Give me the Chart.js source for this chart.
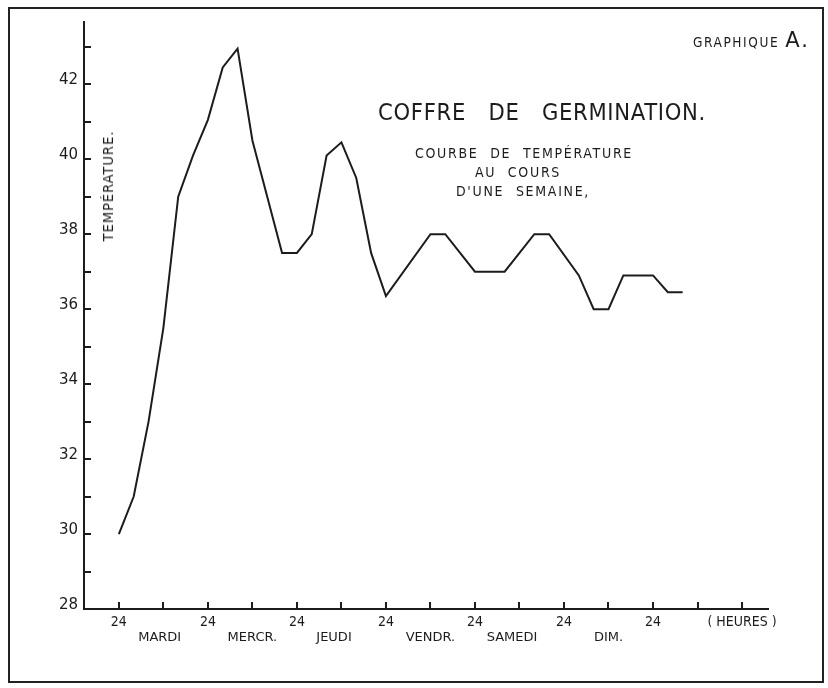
<!DOCTYPE html>
<html>
<head>
<meta charset="utf-8">
<script src="https://cdn.jsdelivr.net/npm/chart.js@4.4.1/dist/chart.umd.min.js"></script>
<style>
  html, body { margin: 0; padding: 0; background: #fff; }
  body { width: 828px; height: 688px; position: relative; overflow: hidden;
         font-family: 'DejaVu Sans Condensed', 'DejaVu Sans', sans-serif; color: #1c1c1c; }
  #frame { position: absolute; left: 8px; top: 7px; width: 812px; height: 672px; border: 2px solid #222; }
  canvas { position: absolute; left: 0; top: 0; }
  .note { position: absolute; white-space: nowrap; }
  .ctr { transform: translateX(-50%); }
  #graph { left: 693px; top: 28px; font-size: 13.5px; letter-spacing: 1.6px; }
  #graph b { font-family: 'DejaVu Sans', sans-serif; font-size: 21px; font-weight: normal; letter-spacing: 2px; margin-left: 6px; }
  #title { left: 542px; top: 101px; font-size: 23.5px; line-height: 23px; letter-spacing: 0.7px; word-spacing: 15px; }
  .sub { font-size: 14px; line-height: 19px; letter-spacing: 1.7px; word-spacing: 6px; }
  #ylab { left: 108px; top: 186px; font-size: 14.5px; letter-spacing: 1px;
          transform: translate(-50%, -50%) rotate(-90deg); }
</style>
</head>
<body>
<div id="frame"></div>
<canvas id="chart" width="828" height="688"></canvas>
<div class="note" id="graph">GRAPHIQUE<b>A.</b></div>
<div class="note ctr" id="title">COFFRE DE GERMINATION.</div>
<div class="note ctr sub" style="left:524px; top:144px;">COURBE DE TEMPÉRATURE</div>
<div class="note ctr sub" style="left:518px; top:163px;">AU COURS</div>
<div class="note ctr sub" style="left:523px; top:182px;">D'UNE SEMAINE,</div>
<div class="note" id="ylab">TEMPÉRATURE.</div>
<script>
// heures depuis minuit (lundi -> mardi)
const hours = [0, 4, 8, 12, 16, 20, 24, 28, 32, 36, 44, 48, 52, 56, 60, 64, 68, 72,
               84, 88, 96, 104, 112, 116, 124, 128, 132, 136, 144, 148, 152];
const temps = [30.0, 31.0, 33.0, 35.5, 39.0, 40.1, 41.05, 42.45, 42.95, 40.5, 37.5, 37.5, 38.0, 40.1, 40.45, 39.5, 37.5, 36.35,
               38.0, 38.0, 37.0, 37.0, 38.0, 38.0, 36.9, 36.0, 36.0, 36.9, 36.9, 36.45, 36.45];

const hourTicks = [0, 12, 24, 36, 48, 60, 72, 84, 96, 108, 120, 132, 144, 156, 168];
const hourLabels = ['24', '', '24', '', '24', '', '24', '', '24', '', '24', '', '24', '', '( HEURES )'];

const tempTicks = [28, 29, 30, 31, 32, 33, 34, 35, 36, 37, 38, 39, 40, 41, 42, 43];
const tempLabels = ['28', '', '30', '', '32', '', '34', '', '36', '', '38', '', '40', '', '42', ''];

const dayNames = ['MARDI', 'MERCR.', 'JEUDI', 'VENDR.', 'SAMEDI', 'DIM.'];
const dayHours = [11, 36, 58, 84, 106, 132];

const ink = '#1c1c1c';
const fam = "'DejaVu Sans Condensed', 'DejaVu Sans', sans-serif";
const famWide = "'DejaVu Sans', sans-serif";

new Chart(document.getElementById('chart'), {
    type: 'line',
    data: {
        datasets: [{
            data: hours.map((h, i) => ({ x: h, y: temps[i] })),
            borderColor: ink,
            borderWidth: 2,
            pointRadius: 0,
            tension: 0,
            fill: false
        }]
    },
    options: {
        responsive: false,
        devicePixelRatio: 1,
        animation: false,
        layout: { padding: { left: 0, top: 20, right: 60, bottom: 0 } },
        plugins: { legend: { display: false }, tooltip: { enabled: false } },
        scales: {
            x: {
                type: 'linear',
                position: 'bottom',
                weight: 0,
                min: -9.4,
                max: 175,
                afterBuildTicks: s => { s.ticks = hourTicks.map(v => ({ value: v })); },
                afterFit: s => { s.height = 18; },
                border: { display: true, color: ink, width: 2 },
                grid: { drawOnChartArea: false, color: ink, lineWidth: 2, tickLength: -7 },
                ticks: {
                    autoSkip: false, maxRotation: 0, padding: 12, color: ink,
                    font: { family: fam, size: 14 },
                    callback: (v, i) => hourLabels[i]
                }
            },
            days: {
                type: 'linear',
                position: 'bottom',
                weight: 1,
                min: -9.4,
                max: 175,
                afterBuildTicks: s => { s.ticks = dayHours.map(v => ({ value: v })); },
                afterFit: s => { s.height = 61; },
                border: { display: false },
                grid: { display: false, drawTicks: false },
                ticks: {
                    autoSkip: false, maxRotation: 0, padding: 3, color: ink,
                    font: { family: famWide, size: 13 },
                    callback: (v, i) => dayNames[i]
                }
            },
            y: {
                type: 'linear',
                min: 28,
                max: 43.66,
                afterBuildTicks: s => { s.ticks = tempTicks.map(v => ({ value: v })); },
                afterFit: s => { s.width = 84; },
                border: { display: true, color: ink, width: 2 },
                grid: { drawOnChartArea: false, color: ink, lineWidth: 2, tickLength: -7 },
                ticks: {
                    autoSkip: false, padding: 13, labelOffset: -4, color: ink,
                    font: { family: famWide, size: 15 },
                    callback: (v, i) => tempLabels[i]
                }
            }
        }
    }
});
</script>
</body>
</html>
